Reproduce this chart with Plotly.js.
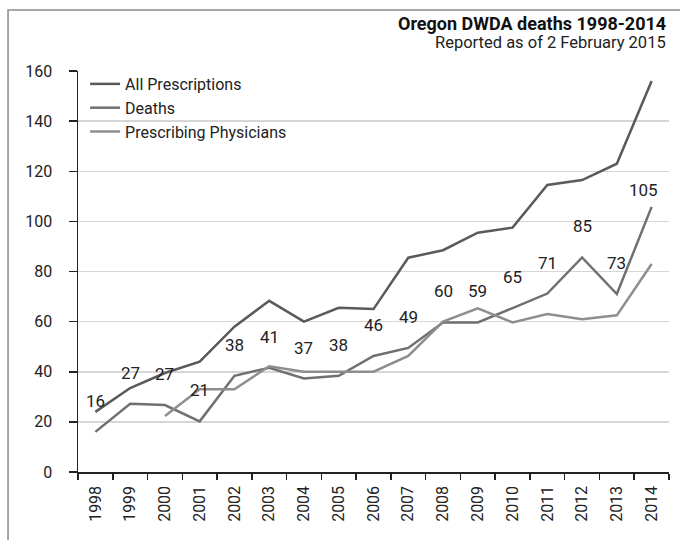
<!DOCTYPE html>
<html>
<head>
<meta charset="utf-8">
<script src="https://cdn.plot.ly/plotly-3.0.1.min.js"></script>
<style>html,body{margin:0;padding:0;background:#fff;}#chart{width:680px;height:540px;}</style>
</head>
<body>
<div id="chart"></div>
<script>
const years = ['1998','1999','2000','2001','2002','2003','2004','2005','2006','2007','2008','2009','2010','2011','2012','2013','2014'];
const prescriptions = [24, 33.5, 39.5, 44, 58, 68.3, 60, 65.5, 65, 85.5, 88.5, 95.5, 97.5, 114.5, 116.5, 123, 156];
const deaths = [16, 27.2, 26.7, 20.2, 38.4, 41.6, 37.3, 38.4, 46.3, 49.5, 59.7, 59.7, 65.4, 71.2, 85.6, 71, 105.8];
const physicians = [null, null, 22.3, 33, 33, 42.2, 40, 40, 40, 46.3, 60, 65.3, 59.7, 63, 61, 62.5, 83];
const deathLabels = [16, 27, 27, 21, 38, 41, 37, 38, 46, 49, 60, 59, 65, 71, 85, 73, 105];

const FONT = 'Roboto, "Liberation Sans", sans-serif';

const traces = [
  {x: years, y: prescriptions, name: 'All Prescriptions', type: 'scatter', mode: 'lines',
   line: {color: '#5a5a5a', width: 2.5}},
  {x: years, y: deaths, name: 'Deaths', type: 'scatter', mode: 'lines',
   line: {color: '#707070', width: 2.5}},
  {x: years, y: physicians, name: 'Prescribing Physicians', type: 'scatter', mode: 'lines',
   line: {color: '#8e8e8e', width: 2.5}}
];

const annotations = deathLabels.map((v, i) => {
  const last = i === years.length - 1;
  return {x: i, y: deaths[i], xref: 'x', yref: 'y', text: String(v), showarrow: false,
    xanchor: 'center', yanchor: 'middle', yshift: last ? 17 : 31, xshift: last ? -8 : 0,
    font: {family: FONT, size: 17, color: '#222'}};
});
annotations.push({xref: 'paper', yref: 'paper', x: 0.998, y: 1.1197, xanchor: 'right', yanchor: 'middle',
  text: '<b>Oregon DWDA deaths 1998-2014</b>', showarrow: false,
  font: {family: FONT, size: 18, color: '#111'}});
annotations.push({xref: 'paper', yref: 'paper', x: 0.998, y: 1.0723, xanchor: 'right', yanchor: 'middle',
  text: 'Reported as of 2 February 2015', showarrow: false,
  font: {family: FONT, size: 16.5, color: '#222'}});

const layout = {
  width: 680, height: 540,
  margin: {l: 78, r: 11, t: 71, b: 68, pad: 0},
  paper_bgcolor: '#fff', plot_bgcolor: '#fff',
  font: {family: FONT, color: '#222', size: 16},
  showlegend: true,
  legend: {x: 0.012, y: 1.01, xanchor: 'left', yanchor: 'top', bgcolor: 'rgba(0,0,0,0)',
    font: {family: FONT, size: 16, color: '#222'}},
  xaxis: {type: 'category', range: [-0.5, 16.5], tickson: 'boundaries', ticks: 'outside', ticklen: 6,
    tickcolor: '#222', tickwidth: 1.5, showline: true, linecolor: '#222', linewidth: 1.5,
    showgrid: false, tickangle: -90, tickfont: {family: FONT, size: 16, color: '#222'},
    ticklabelstandoff: 6, fixedrange: true},
  yaxis: {range: [0, 160], dtick: 20, ticks: 'outside', ticklen: 8, tickcolor: '#222', tickwidth: 1.5,
    showline: true, linecolor: '#222', linewidth: 1.5, gridcolor: '#d6d6d6', gridwidth: 1.5,
    zeroline: false, tickfont: {family: FONT, size: 16, color: '#222'}, ticklabelstandoff: 13,
    fixedrange: true},
  shapes: [{type: 'rect', xref: 'paper', yref: 'paper', x0: -0.1184, x1: 1.06, y0: -0.2, y1: 1.152,
    line: {color: '#8a8a8a', width: 1.5}, fillcolor: 'rgba(0,0,0,0)', layer: 'below'}],
  annotations: annotations
};

Plotly.newPlot('chart', traces, layout, {displayModeBar: false, staticPlot: true});
</script>
</body>
</html>
